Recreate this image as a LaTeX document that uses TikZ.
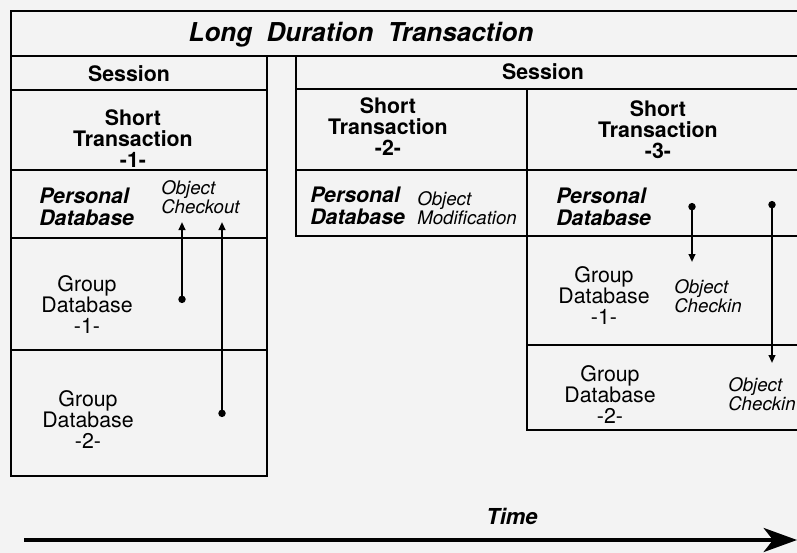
\documentclass[tikz,border=0pt]{standalone}
\usepackage{fontspec}
\setmainfont{TeX Gyre Heros}
\usetikzlibrary{arrows.meta}
\definecolor{paper}{HTML}{F3F3F3}
\begin{document}
\begin{tikzpicture}[x=0.75pt,y=-0.75pt,
  frame/.style={line width=1.1pt, line cap=rect},
  big/.style={font=\fontsize{16}{15.75}\selectfont, inner sep=0pt},
  ctr/.style={big, align=center, anchor=base},
  hd/.style={ctr, font=\fontsize{16}{15.75}\selectfont\bfseries},
  pdb/.style={big, align=left, anchor=base west, font=\fontsize{16}{16.5}\selectfont\bfseries\itshape},
  obj/.style={inner sep=0pt, align=left, anchor=base west, font=\fontsize{14}{14.25}\selectfont\itshape},
  link/.style={line width=1.4pt, {Circle[length=5.5pt]}-{Triangle[length=6pt,width=5pt]}}
]
\useasboundingbox (0,0) rectangle (797,553);
\fill[paper] (0,0) rectangle (797,553);
\clip (0,0) rectangle (797,553);

% long duration transaction frame
\draw[frame] (810,11) -- (11,11) -- (11,476) -- (267,476) -- (267,56);
\draw[frame] (11,56) -- (810,56);
% first session
\draw[frame] (11,90) -- (267,90);
\draw[frame] (11,170) -- (267,170);
\draw[frame] (11,238) -- (267,238);
\draw[frame] (11,350) -- (267,350);
% second session
\draw[frame] (296,56) -- (296,236) -- (527,236);
\draw[frame] (296,89) -- (810,89);
\draw[frame] (296,170) -- (810,170);
\draw[frame] (527,89) -- (527,430) -- (810,430);
\draw[frame] (527,236) -- (810,236);
\draw[frame] (527,345) -- (810,345);

% labels (multi-line nodes are placed by the baseline of their last line)
\node[anchor=base, inner sep=0pt, font=\fontsize{19.5}{20}\selectfont\bfseries\itshape] (ldt) at (361,41) {Long\ \ Duration\ \ Transaction};
\node[hd] (ses1) at (129,81) {Session};
\node[hd] (ses2) at (543,79) {Session};
\node[hd] (st1) at (133,167) {Short\\Transaction\\-1-};
\node[hd] (st2) at (388,155) {Short\\Transaction\\-2-};
\node[hd] (st3) at (658,158) {Short\\Transaction\\-3-};
\node[pdb] (pd1) at (39,225) {Personal\\Database};
\node[pdb] (pd2) at (310,224) {Personal\\Database};
\node[pdb] (pd3) at (556,225) {Personal\\Database};
\node[obj] (oc1) at (161,213) {Object\\Checkout};
\node[obj] (om2) at (417,224) {Object\\Modification};
\node[obj] (oci1) at (674,312) {Object\\Checkin};
\node[obj] (oci2) at (728,410) {Object\\Checkin};
\node[ctr] (gd1) at (87,333) {Group\\Database\\-1-};
\node[ctr] (gd2) at (88,448) {Group\\Database\\-2-};
\node[ctr] (gd3) at (604,324) {Group\\Database\\-1-};
\node[ctr] (gd4) at (610,423) {Group\\Database\\-2-};

% transfers between databases
\coordinate (co1a) at (182,303);
\coordinate (co1b) at (182,222);
\coordinate (co2a) at (222,417);
\coordinate (co2b) at (222,222);
\coordinate (ci1a) at (692,203);
\coordinate (ci1b) at (692,262);
\coordinate (ci2a) at (772,201);
\coordinate (ci2b) at (772,363);
\draw[link] (co1a) -- (co1b);
\draw[link] (co2a) -- (co2b);
\draw[link] (ci1a) -- (ci1b);
\draw[link] (ci2a) -- (ci2b);

% time axis
\node[anchor=base, inner sep=0pt, font=\fontsize{16.5}{18}\selectfont\bfseries\itshape] (time) at (512,524) {Time};
\coordinate (t0) at (24,540);
\coordinate (t1) at (797,540);
\draw[line width=3pt, -{Stealth[length=25pt,width=18pt,inset=7pt]}] (t0) -- (t1);
\end{tikzpicture}
\end{document}
